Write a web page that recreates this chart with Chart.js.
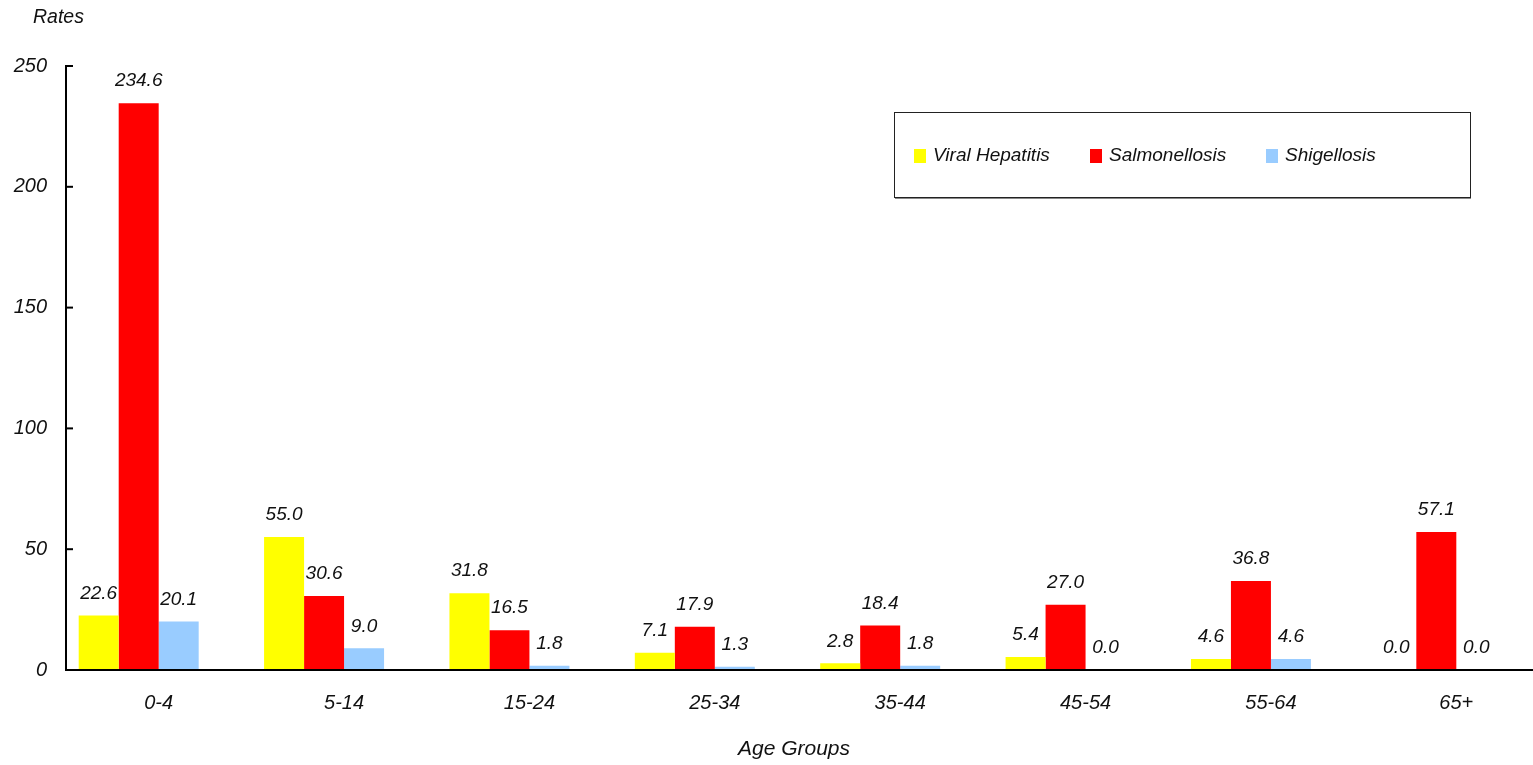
<!DOCTYPE html>
<html>
<head>
<meta charset="utf-8">
<script src="https://cdn.jsdelivr.net/npm/chart.js@4.4.1/dist/chart.umd.min.js"></script>
<style>
html,body{margin:0;padding:0;background:#fff;overflow:hidden;}
#wrap{width:1533px;height:765px;position:relative;overflow:hidden;}
</style>
</head>
<body>
<div id="wrap"><canvas id="c" width="1549" height="765"></canvas></div>
<script>
const categories = ['0-4','5-14','15-24','25-34','35-44','45-54','55-64','65+'];
const viralHepatitis = [22.6, 55.0, 31.8, 7.1, 2.8, 5.4, 4.6, 0.0];
const salmonellosis = [234.6, 30.6, 16.5, 17.9, 18.4, 27.0, 36.8, 57.1];
const shigellosis = [20.1, 9.0, 1.8, 1.3, 1.8, 0.0, 4.6, 0.0];
const seriesNames = ['Viral Hepatitis','Salmonellosis','Shigellosis'];
const yTicks = [0, 50, 100, 150, 200, 250];
const yTitle = 'Rates';
const xTitle = 'Age Groups';

const colors = ['#FFFF00','#FF0000','#99CCFF'];
const FONT = '"Liberation Sans", Arial, sans-serif';

const decorPlugin = {
  id: 'decor',
  afterDraw(chart) {
    const ctx = chart.ctx;
    const ys = chart.scales.y;
    const area = chart.chartArea;
    ctx.save();
    ctx.strokeStyle = '#000';
    ctx.lineWidth = 2;
    ctx.beginPath();
    ctx.moveTo(area.left, ys.getPixelForValue(250) - 1);
    ctx.lineTo(area.left, ys.getPixelForValue(0));
    ctx.lineTo(chart.width, ys.getPixelForValue(0));
    ctx.stroke();
    yTicks.forEach(v => {
      const y = ys.getPixelForValue(v);
      ctx.beginPath();
      ctx.moveTo(area.left, y);
      ctx.lineTo(area.left + 7, y);
      ctx.stroke();
    });
    ctx.fillStyle = '#111';
    ctx.font = 'italic 19px ' + FONT;
    ctx.textAlign = 'center';
    ctx.textBaseline = 'middle';
    for (let d = 0; d < 3; d++) {
      const meta = chart.getDatasetMeta(d);
      meta.data.forEach((bar, i) => {
        const v = chart.data.datasets[d].data[i];
        if (v === null) return;
        ctx.fillText(v.toFixed(1), bar.x, bar.y - 22);
      });
    }
    ctx.font = 'italic 19.5px ' + FONT;
    ctx.textAlign = 'left';
    ctx.fillText(yTitle, 33, 18);
    ctx.font = 'italic 21px ' + FONT;
    ctx.textAlign = 'center';
    ctx.fillText(xTitle, 794, 749);
    ctx.fillStyle = '#fff';
    ctx.strokeStyle = '#222';
    ctx.lineWidth = 1;
    ctx.fillRect(894.5, 112.5, 576, 85);
    ctx.strokeRect(894.5, 112.5, 576, 85);
    ctx.strokeStyle = '#888';
    ctx.beginPath();
    ctx.moveTo(895, 198.5); ctx.lineTo(1471, 198.5);
    ctx.stroke();
    const lx = [914, 1090, 1266];
    ctx.font = 'italic 19px ' + FONT;
    ctx.textAlign = 'left';
    seriesNames.forEach((n, i) => {
      ctx.fillStyle = colors[i];
      ctx.fillRect(lx[i], 149, 12, 14);
      ctx.fillStyle = '#111';
      ctx.fillText(n, lx[i] + 19, 156);
    });
    ctx.restore();
  }
};

new Chart(document.getElementById('c'), {
  type: 'bar',
  data: {
    labels: categories,
    datasets: [
      { label: seriesNames[0], data: viralHepatitis, backgroundColor: colors[0] },
      { label: seriesNames[1], data: salmonellosis, backgroundColor: colors[1] },
      { label: seriesNames[2], data: shigellosis, backgroundColor: colors[2] },
      { label: '', data: categories.map(() => null), backgroundColor: 'rgba(0,0,0,0)' }
    ]
  },
  options: {
    responsive: false,
    animation: false,
    devicePixelRatio: 1,
    layout: { padding: { left: 0, right: 0, top: 66, bottom: 0 } },
    datasets: { bar: { barPercentage: 1.0, categoryPercentage: 0.863, borderWidth: 0 } },
    plugins: { legend: { display: false }, tooltip: { enabled: false } },
    scales: {
      x: {
        grid: { display: false, drawTicks: false },
        border: { display: false },
        ticks: { color: '#111', font: { family: FONT, size: 20, style: 'italic' }, padding: 21, maxRotation: 0 },
        afterFit(s) { s.height = 95; }
      },
      y: {
        min: 0, max: 250,
        afterBuildTicks(s) { s.ticks = yTicks.map(v => ({ value: v })); },
        grid: { display: false, drawTicks: false },
        border: { display: false },
        ticks: { color: '#111', font: { family: FONT, size: 20, style: 'italic' }, padding: 19 },
        afterFit(s) { s.width = 66; }
      }
    }
  },
  plugins: [decorPlugin]
});
</script>
</body>
</html>
